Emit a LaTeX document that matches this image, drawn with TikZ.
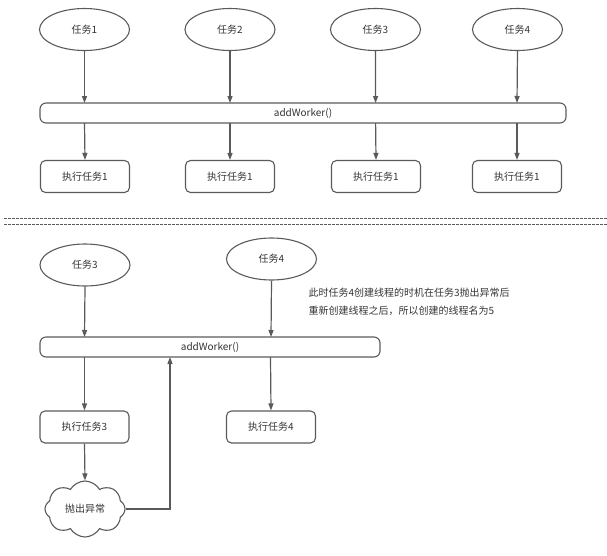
\documentclass[tikz,border=0pt]{standalone}
\usepackage{fontspec}
\setmainfont{Noto Sans CJK SC}
\usetikzlibrary{shapes.symbols,shapes.geometric,arrows.meta}
\definecolor{ln}{HTML}{5A5A5A}
\definecolor{tx}{HTML}{333333}
\begin{document}
\begin{tikzpicture}[x=1pt,y=-1pt,
  every node/.style={font=\fontsize{10}{12}\selectfont, text=tx},
  task/.style={draw=ln, line width=1.1pt, ellipse, minimum width=90pt, minimum height=42pt, inner sep=0pt},
  exec/.style={draw=ln, line width=1.1pt, rounded corners=5pt, minimum width=89pt, minimum height=32pt, inner sep=0pt},
  bar/.style={draw=ln, line width=1.1pt, rounded corners=6pt, minimum height=20pt, inner sep=0pt},
  conn/.style={draw=ln, line width=1.2pt, -{Triangle[length=7pt,width=5pt]}}]
\useasboundingbox (0,0) rectangle (607,555);
% top section
\node[task] (t1) at (84.5,29.5) {任务1};
\node[task] (t2) at (230,29.5) {任务2};
\node[task] (t3) at (375.5,29.5) {任务3};
\node[task] (t4) at (517.5,29.5) {任务4};
\node[bar, minimum width=526pt] (aw) at (303,113) {addWorker()};
\node[exec] (e1) at (85,176.5) {执行任务1};
\node[exec] (e2) at (230,176.5) {执行任务1};
\node[exec] (e3) at (376,176.5) {执行任务1};
\node[exec] (e4) at (517,176.5) {执行任务1};
\foreach \i/\xx in {1/84.5,2/230,3/375.6,4/517}{
  \coordinate (a\i) at (\xx,103);
  \coordinate (b\i) at (\xx,123);
  \draw[conn] (t\i.south |- 0,50) -- (a\i);
  \draw[conn] (b\i) -- (e\i.north);
}
% separator
\coordinate (s1l) at (4,218); \coordinate (s1r) at (607,218);
\coordinate (s2l) at (4,224); \coordinate (s2r) at (607,224);
\draw[ln, line width=1pt, dash pattern=on 2.5pt off 1.5pt] (s1l) -- (s1r);
\draw[ln, line width=1pt, dash pattern=on 2.5pt off 1.5pt] (s2l) -- (s2r);
% bottom section
\node[task] (u3) at (85,265) {任务3};
\node[task] (u4) at (271.5,259) {任务4};
\node[anchor=west, align=left, font=\fontsize{10}{18}\selectfont] (note) at (305,302) {此时任务4创建线程的时机在任务3抛出异常后\\重新创建线程之后，所以创建的线程名为5};
\node[bar, minimum width=340pt] (aw2) at (210,347) {addWorker()};
\node[exec] (f3) at (84.5,427) {执行任务3};
\node[exec] (f4) at (271,427) {执行任务4};
\node[cloud, cloud puffs=8, cloud puff arc=120, aspect=1.45, draw=ln, line width=1.1pt, minimum width=80pt, minimum height=56pt, inner sep=0pt] (cl) at (85,509) {抛出异常};
\coordinate (c3t) at (84.5,337);
\coordinate (c4t) at (271,337);
\coordinate (c3b) at (84.5,357);
\coordinate (c4b) at (270.5,357);
\coordinate (ret) at (170,357);
\draw[conn] (u3.south) -- (c3t);
\draw[conn] (u4.south) -- (c4t);
\draw[conn] (c3b) -- (f3.north);
\draw[conn] (c4b) -- (f4.north);
\draw[conn] (f3.south) -- (cl.north);
\draw[conn] (cl.east) -| (ret);
\end{tikzpicture}
\end{document}
